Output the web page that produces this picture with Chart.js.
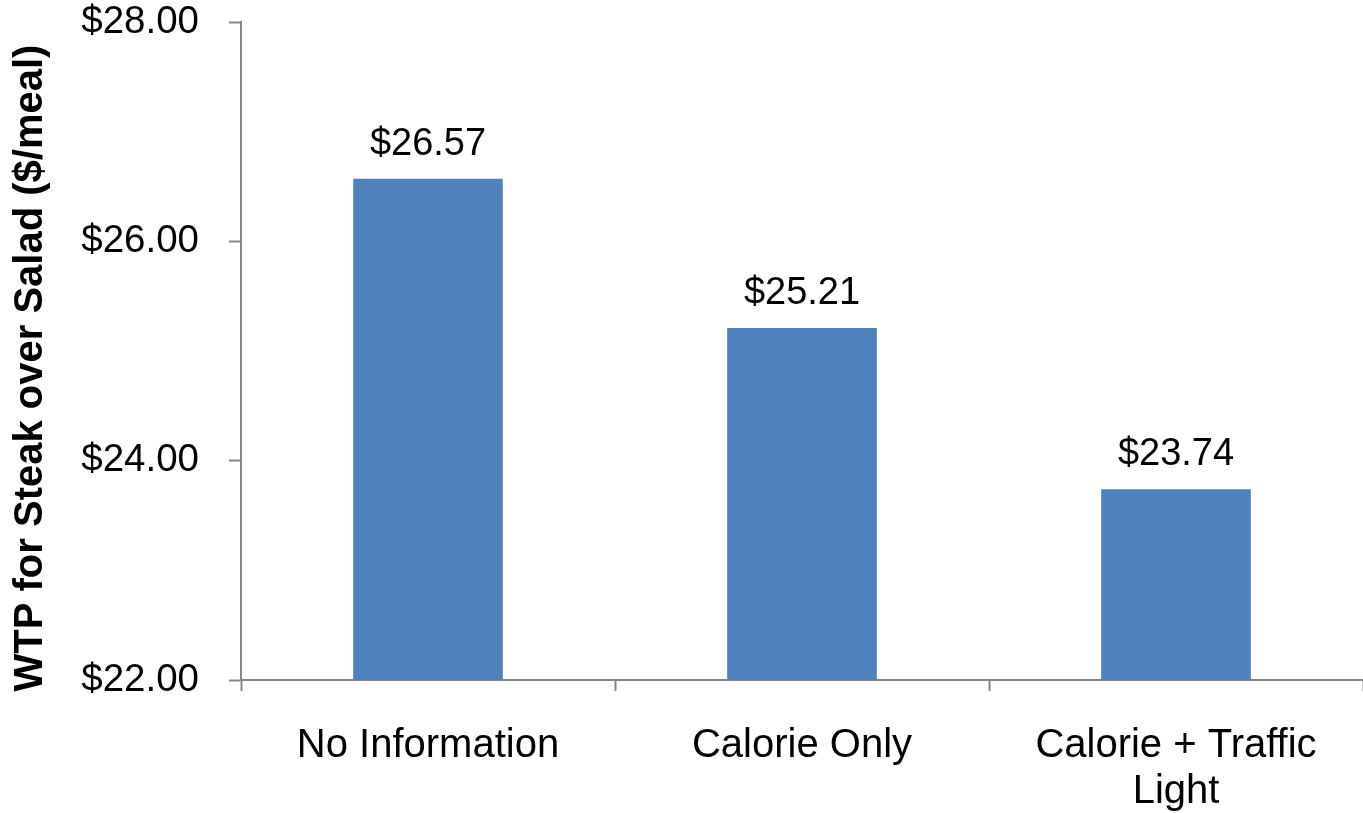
<!DOCTYPE html>
<html>
<head>
<meta charset="utf-8">
<title>WTP for Steak over Salad</title>
<script src="https://cdn.jsdelivr.net/npm/chart.js@4.4.1/dist/chart.umd.min.js"></script>
<style>
  html, body { margin: 0; padding: 0; background: #fff; }
  #wrap { width: 1363px; height: 813px; position: relative; }
</style>
</head>
<body>
<div id="wrap"><canvas id="wtpChart"></canvas></div>
<script>
// chart data
const categories = ['No Information', 'Calorie Only', ['Calorie + Traffic', 'Light']];
const wtpValues = [26.57, 25.21, 23.74];
const yMin = 22;
const yMax = 28;
const yStep = 2;
const yTitle = 'WTP for Steak over Salad ($/meal)';

const AXIS_GREY = '#868686';
const BAR_BLUE = '#4F81BD';
const FONT = '"Liberation Sans", Arial, sans-serif';

function money(v) {
  return '$' + Number(v).toFixed(2);
}

// value labels above each bar
const barLabels = {
  id: 'barLabels',
  afterDatasetsDraw(chart) {
    const ctx = chart.ctx;
    const meta = chart.getDatasetMeta(0);
    ctx.save();
    ctx.font = '38px ' + FONT;
    ctx.fillStyle = '#000';
    ctx.textAlign = 'center';
    ctx.textBaseline = 'alphabetic';
    meta.data.forEach((bar, i) => {
      ctx.fillText(money(wtpValues[i]), bar.x, bar.y - 24);
    });
    ctx.restore();
  }
};

// rotated y axis title
const yAxisTitle = {
  id: 'yAxisTitle',
  afterDraw(chart) {
    const ctx = chart.ctx;
    const area = chart.chartArea;
    ctx.save();
    ctx.translate(31, (area.top + area.bottom) / 2 + 17);
    ctx.rotate(-Math.PI / 2);
    ctx.font = 'bold 40px ' + FONT;
    ctx.fillStyle = '#000';
    ctx.textAlign = 'center';
    ctx.textBaseline = 'middle';
    ctx.fillText(yTitle, 0, 0);
    ctx.restore();
  }
};

const ctx = document.getElementById('wtpChart').getContext('2d');
const wtpChart = new Chart(ctx, {
  type: 'bar',
  data: {
    labels: categories,
    datasets: [{
      label: 'WTP',
      data: wtpValues,
      backgroundColor: BAR_BLUE,
      borderWidth: 0,
      barPercentage: 0.4,
      categoryPercentage: 1.0
    }]
  },
  options: {
    responsive: true,
    maintainAspectRatio: false,
    animation: false,
    layout: { padding: { top: 22, right: 0, left: 0, bottom: 0 } },
    plugins: {
      legend: { display: false },
      tooltip: { enabled: false }
    },
    scales: {
      x: {
        offset: true,
        grid: {
          offset: true,
          drawOnChartArea: false,
          drawTicks: true,
          tickLength: 11,
          tickWidth: 2,
          tickColor: AXIS_GREY
        },
        border: { color: AXIS_GREY, width: 2 },
        ticks: {
          color: '#000',
          font: { family: FONT, size: 40, lineHeight: 1.15 },
          padding: 32,
          maxRotation: 0,
          autoSkip: false
        },
        afterFit(scale) { scale.height = 133; }
      },
      y: {
        min: yMin,
        max: yMax,
        grid: {
          drawOnChartArea: false,
          drawTicks: true,
          tickLength: 12,
          tickWidth: 2,
          tickColor: AXIS_GREY
        },
        border: { color: AXIS_GREY, width: 2 },
        ticks: {
          stepSize: yStep,
          color: '#000',
          font: { family: FONT, size: 38.5 },
          padding: 30,
          callback: (v) => money(v)
        },
        afterFit(scale) {
          scale.width = 241;
          scale.paddingTop = 0;
          scale.paddingBottom = 0;
        }
      }
    }
  },
  plugins: [barLabels, yAxisTitle]
});
</script>
</body>
</html>
